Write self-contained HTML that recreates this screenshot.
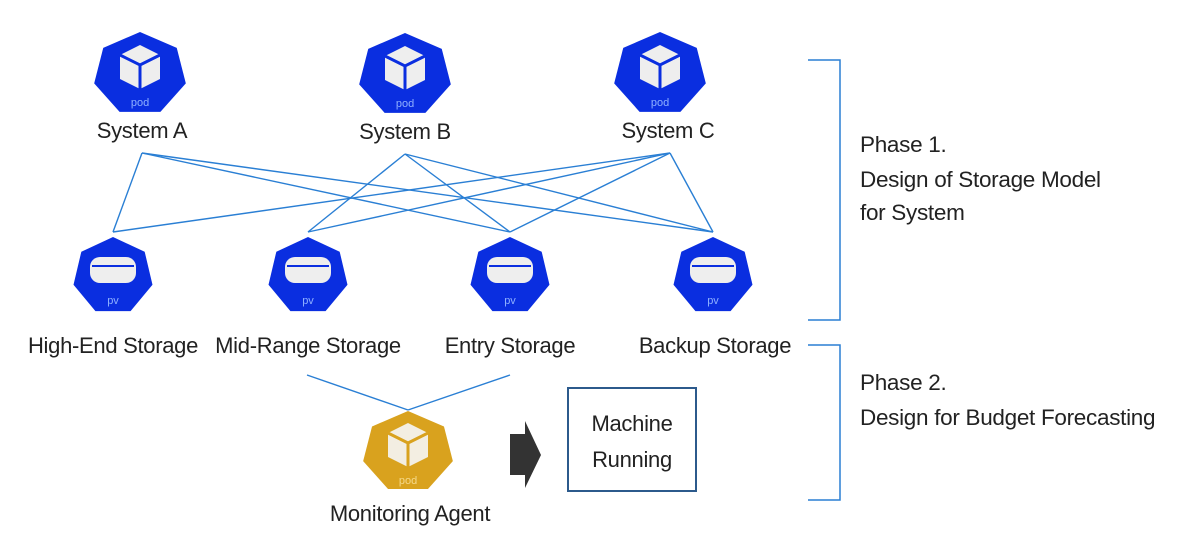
<!DOCTYPE html>
<html><head><meta charset="utf-8"><style>
body{margin:0;background:#fff}
svg{display:block}
text{font-family:"Liberation Sans",sans-serif;fill:#222;letter-spacing:-0.3px}
</style></head><body>
<svg width="1189" height="550" viewBox="0 0 1189 550" xmlns="http://www.w3.org/2000/svg">
<defs>
<polygon id="h" points="0,-1 0.782,-0.623 0.975,0.223 0.434,0.901 -0.434,0.901 -0.975,0.223 -0.782,-0.623"/>
<g id="cube"><polygon points="-20,-11 0,-21 20,-11 20,13 0,23 -20,13" fill="#eee"/><polyline points="-20,-11 0,-1 20,-11" fill="none" stroke="#0a2ee0" stroke-width="3"/><line x1="0" y1="-1" x2="0" y2="23" stroke="#0a2ee0" stroke-width="3"/></g>
<g id="disk"><rect x="-23" y="-13" width="46" height="26" rx="10" fill="#eee"/><line x1="-21" y1="-4" x2="21" y2="-4" stroke="#0a2ee0" stroke-width="2"/></g>
</defs>
<g stroke="#2a7fd4" stroke-width="1.4" fill="none">
<line x1="142" y1="153" x2="113" y2="232"/><line x1="142" y1="153" x2="510" y2="232"/><line x1="142" y1="153" x2="713" y2="232"/>
<line x1="405" y1="154" x2="308" y2="232"/><line x1="405" y1="154" x2="510" y2="232"/><line x1="405" y1="154" x2="713" y2="232"/>
<line x1="670" y1="153" x2="113" y2="232"/><line x1="670" y1="153" x2="308" y2="232"/><line x1="670" y1="153" x2="510" y2="232"/><line x1="670" y1="153" x2="713" y2="232"/>
<line x1="307" y1="375" x2="408" y2="410"/><line x1="510" y1="375" x2="408" y2="410"/>
</g>
<g fill="#0a2ee0">
<g transform="translate(140,74)"><use href="#h" transform="scale(47,42)"/><use href="#cube" transform="translate(0,-8)"/><text x="0" y="32" font-size="11" text-anchor="middle" style="fill:#8fb0ff;letter-spacing:0">pod</text></g>
<g transform="translate(405,75)"><use href="#h" transform="scale(47,42)"/><use href="#cube" transform="translate(0,-8)"/><text x="0" y="32" font-size="11" text-anchor="middle" style="fill:#8fb0ff;letter-spacing:0">pod</text></g>
<g transform="translate(660,74)"><use href="#h" transform="scale(47,42)"/><use href="#cube" transform="translate(0,-8)"/><text x="0" y="32" font-size="11" text-anchor="middle" style="fill:#8fb0ff;letter-spacing:0">pod</text></g>
<g transform="translate(113,276)"><use href="#h" transform="scale(40.5,39)"/><use href="#disk" transform="translate(0,-6)"/><text x="0" y="28" font-size="11" text-anchor="middle" style="fill:#8fb0ff;letter-spacing:0">pv</text></g>
<g transform="translate(308,276)"><use href="#h" transform="scale(40.5,39)"/><use href="#disk" transform="translate(0,-6)"/><text x="0" y="28" font-size="11" text-anchor="middle" style="fill:#8fb0ff;letter-spacing:0">pv</text></g>
<g transform="translate(510,276)"><use href="#h" transform="scale(40.5,39)"/><use href="#disk" transform="translate(0,-6)"/><text x="0" y="28" font-size="11" text-anchor="middle" style="fill:#8fb0ff;letter-spacing:0">pv</text></g>
<g transform="translate(713,276)"><use href="#h" transform="scale(40.5,39)"/><use href="#disk" transform="translate(0,-6)"/><text x="0" y="28" font-size="11" text-anchor="middle" style="fill:#8fb0ff;letter-spacing:0">pv</text></g>
</g>
<g fill="#d9a21e" transform="translate(408,452)"><use href="#h" transform="scale(46,41)"/><polygon points="-20,-19 0,-29 20,-19 20,5 0,15 -20,5" fill="#f3eee2"/><line x1="-20" y1="-19" x2="0" y2="-9" stroke="#d9a21e" stroke-width="3"/><line x1="20" y1="-19" x2="0" y2="-9" stroke="#d9a21e" stroke-width="3"/><line x1="0" y1="-9" x2="0" y2="15" stroke="#d9a21e" stroke-width="3"/><text x="0" y="32" font-size="11" text-anchor="middle" style="fill:#f5d98a;letter-spacing:0">pod</text></g>
<g font-size="22" text-anchor="middle">
<text x="142" y="138">System A</text><text x="405" y="139">System B</text><text x="668" y="138">System C</text>
<text x="113" y="353">High-End Storage</text><text x="308" y="353">Mid-Range Storage</text><text x="510" y="353">Entry Storage</text><text x="715" y="353">Backup Storage</text>
<text x="410" y="521">Monitoring Agent</text>
<text x="632" y="431">Machine</text><text x="632" y="467">Running</text>
</g>
<polygon points="510,434 525,434 525,421 541,455 525,488 525,475 510,475" fill="#333"/>
<rect x="568" y="388" width="128" height="103" fill="none" stroke="#2c5a8c" stroke-width="2"/>
<g stroke="#2a7fd4" stroke-width="1.5" fill="none">
<polyline points="808,60 840,60 840,320 808,320"/>
<polyline points="808,345 840,345 840,500 808,500"/>
</g>
<g font-size="22.5">
<text x="860" y="152">Phase 1.</text><text x="860" y="187">Design of Storage Model</text><text x="860" y="220">for System</text>
<text x="860" y="390">Phase 2.</text><text x="860" y="425">Design for Budget Forecasting</text>
</g>
</svg>
</body></html>
